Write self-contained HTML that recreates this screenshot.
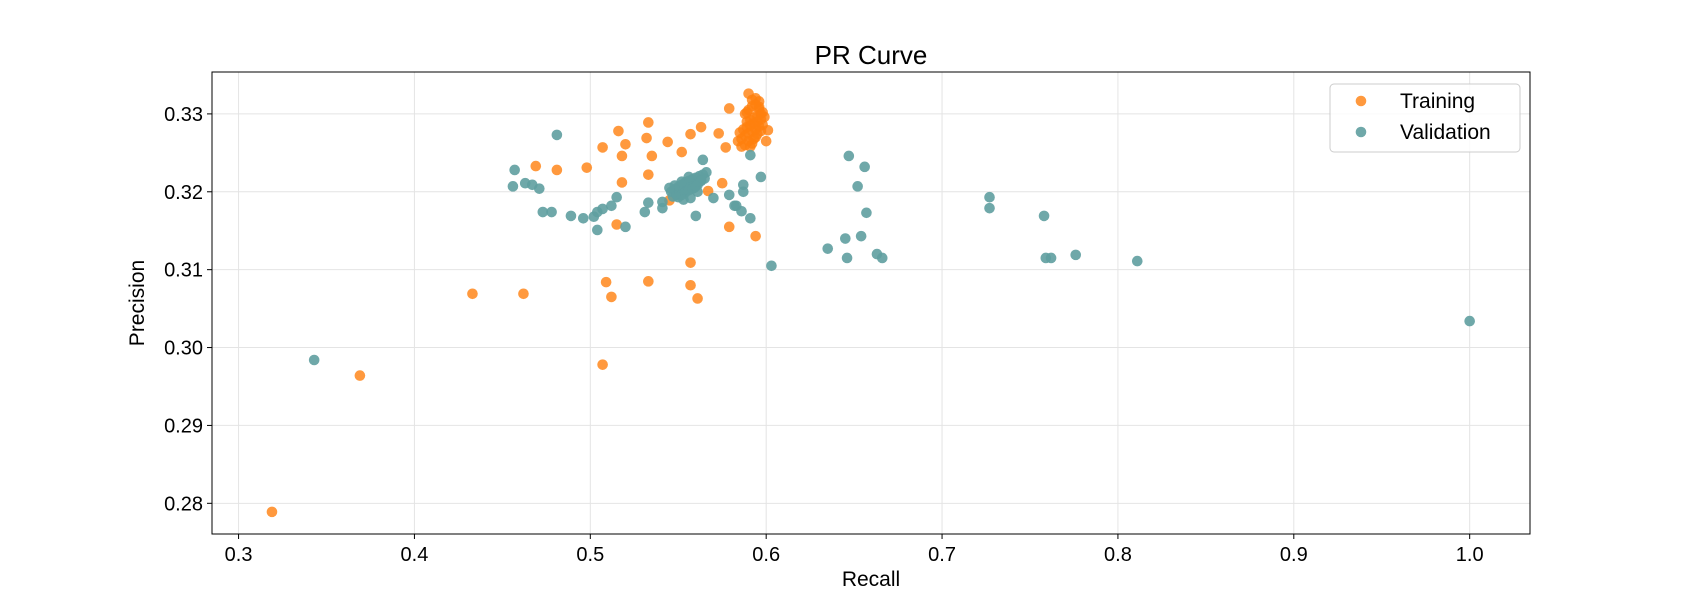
<!DOCTYPE html>
<html><head><meta charset="utf-8"><style>
html,body{margin:0;padding:0;background:#fff;}
svg{display:block;font-family:"Liberation Sans",sans-serif;}
</style></head><body>
<svg id="chart" width="1700" height="600"></svg>
<script>
const trainRecall=[0.319,0.369,0.433,0.462,0.507,0.509,0.512,0.533,0.557,0.557,0.561,0.515,0.579,0.594,0.575,0.518,0.533,0.469,0.481,0.498,0.518,0.535,0.552,0.544,0.507,0.520,0.516,0.533,0.532,0.557,0.563,0.573,0.577,0.579,0.590,0.567,0.545,
0.601,0.600,0.594,0.596,0.584,0.586,0.588,0.590,0.592,0.594,0.596,0.598,0.589,0.591,0.593,0.595,0.597,0.587,0.589,0.591,0.593,0.595,0.597,0.599,0.588,0.590,0.592,0.594,0.596,0.586,0.590,0.592,0.594,0.598,0.585,0.588,0.591,0.593,0.595,0.597,0.589,0.592,0.596];
const trainPrecision=[0.2789,0.2964,0.3069,0.3069,0.2978,0.3084,0.3065,0.3085,0.3109,0.3080,0.3063,0.3158,0.3155,0.3143,0.3211,0.3212,0.3222,0.3233,0.3228,0.3231,0.3246,0.3246,0.3251,0.3264,0.3257,0.3261,0.3278,0.3289,0.3269,0.3274,0.3283,0.3275,0.3257,0.3307,0.3326,0.3201,0.3189,
0.3279,0.3265,0.3320,0.3316,0.3265,0.3258,0.3300,0.3305,0.3310,0.3312,0.3306,0.3302,0.3290,0.3292,0.3295,0.3298,0.3300,0.3280,0.3283,0.3285,0.3288,0.3290,0.3293,0.3296,0.3272,0.3275,0.3278,0.3280,0.3284,0.3268,0.3265,0.3262,0.3270,0.3286,0.3276,0.3260,0.3258,0.3268,0.3274,0.3278,0.3302,0.3318,0.3309];
const valRecall=[0.343,1.0,0.457,0.456,0.463,0.467,0.471,0.473,0.478,0.481,0.489,0.496,0.502,0.504,0.504,0.507,0.512,0.515,0.520,0.531,0.533,0.541,0.541,0.560,0.564,0.570,0.579,0.582,
0.587,0.587,0.586,0.591,0.583,0.591,0.597,0.603,0.635,0.645,0.646,0.647,0.654,0.656,0.652,0.657,0.663,0.666,0.727,0.727,0.758,0.759,0.762,0.776,0.811,
0.546,0.548,0.549,0.550,0.551,0.552,0.553,0.554,0.555,0.556,0.557,0.558,0.559,0.560,0.561,0.562,0.563,0.564,0.565,0.566,0.547,0.549,0.551,0.553,0.555,0.557,0.559,0.561,0.563,0.550,0.552,0.554,0.556,0.558,0.560,0.548,0.552,0.556,0.545,0.553,0.557,0.561];
const valPrecision=[0.2984,0.3034,0.3228,0.3207,0.3211,0.3209,0.3204,0.3174,0.3174,0.3273,0.3169,0.3166,0.3168,0.3151,0.3174,0.3178,0.3182,0.3193,0.3155,0.3174,0.3186,0.3187,0.3179,0.3169,0.3241,0.3192,0.3196,0.3182,
0.3209,0.3200,0.3175,0.3166,0.3182,0.3247,0.3219,0.3105,0.3127,0.3140,0.3115,0.3246,0.3143,0.3232,0.3207,0.3173,0.3120,0.3115,0.3193,0.3179,0.3169,0.3115,0.3115,0.3119,0.3111,
0.3200,0.3203,0.3196,0.3206,0.3199,0.3209,0.3202,0.3212,0.3205,0.3214,0.3207,0.3216,0.3210,0.3218,0.3212,0.3220,0.3215,0.3222,0.3217,0.3225,0.3194,0.3197,0.3201,0.3204,0.3208,0.3211,0.3205,0.3209,0.3214,0.3193,0.3196,0.3199,0.3202,0.3204,0.3207,0.3208,0.3213,0.3219,0.3205,0.3190,0.3192,0.3200];
const xTicks=[0.3,0.4,0.5,0.6,0.7,0.8,0.9,1.0];
const xTickLabels=["0.3","0.4","0.5","0.6","0.7","0.8","0.9","1.0"];
const yTicks=[0.28,0.29,0.30,0.31,0.32,0.33];
const yTickLabels=["0.28","0.29","0.30","0.31","0.32","0.33"];

const L=212,R=1530,T=72,B=534;
const xMin=0.2849,xMax=1.0343,yMin=0.27606,yMax=0.33538;
const sx=v=>L+(v-xMin)/(xMax-xMin)*(R-L);
const sy=v=>B-(v-yMin)/(yMax-yMin)*(B-T);
const NS="http://www.w3.org/2000/svg";
const svg=document.getElementById('chart');
function mk(tag,attrs,parent){const e=document.createElementNS(NS,tag);for(const k in attrs)e.setAttribute(k,attrs[k]);(parent||svg).appendChild(e);return e;}

xTicks.forEach((t,i)=>{
  const g=mk('line',{x1:sx(t),x2:sx(t),y1:T,y2:B,stroke:'#e4e4e4','stroke-width':1});
  
  
  const tk=mk('line',{x1:sx(t),x2:sx(t),y1:B,y2:B+5,stroke:'#000','stroke-width':1});
  
  
  const tx=mk('text',{x:sx(t),y:B+27,'text-anchor':'middle','font-size':20});
  tx.textContent=xTickLabels[i];
  
  
});
yTicks.forEach((t,i)=>{
  const g=mk('line',{x1:L,x2:R,y1:sy(t),y2:sy(t),stroke:'#e4e4e4','stroke-width':1});
  
  
  const tk=mk('line',{x1:L-5,x2:L,y1:sy(t),y2:sy(t),stroke:'#000','stroke-width':1});
  
  
  const tx=mk('text',{x:L-9,y:sy(t)+7,'text-anchor':'end','font-size':20});
  tx.textContent=yTickLabels[i];
  
  
});
trainRecall.forEach((r,i)=>{
  const c=mk('circle',{cx:sx(r),cy:sy(trainPrecision[i]),r:5.3,fill:'#ff7f0e','fill-opacity':0.8});
  
  
});
valRecall.forEach((r,i)=>{
  const c=mk('circle',{cx:sx(r),cy:sy(valPrecision[i]),r:5.3,fill:'#5f9ea0','fill-opacity':0.9});
  
  
});
const fr=mk('rect',{x:L,y:T,width:R-L,height:B-T,fill:'none',stroke:'#000','stroke-width':1});


const ti=mk('text',{x:(L+R)/2,y:T-8,'text-anchor':'middle','font-size':26});
ti.textContent='PR Curve';


const xl=mk('text',{x:(L+R)/2,y:B+52,'text-anchor':'middle','font-size':21});
xl.textContent='Recall';


const yl=mk('text',{x:0,y:0,'text-anchor':'middle','font-size':21,transform:`translate(144,${(T+B)/2}) rotate(-90)`});
yl.textContent='Precision';



const lg=mk('g',{});


mk('rect',{x:1330,y:84,width:190,height:68,rx:4,fill:'#fff','fill-opacity':0.8,stroke:'#ccc'},lg);
const entries=[['Training','#ff7f0e',0.8,101],['Validation','#5f9ea0',0.9,132]];
entries.forEach(e=>{
  const g=mk('g',{},lg);
  
  
  mk('circle',{cx:1361,cy:e[3],r:5.3,fill:e[1],'fill-opacity':e[2]},g);
  const t=mk('text',{x:1400,y:e[3]+7,'font-size':21},g);
  t.textContent=e[0];
});
</script>
</body></html>
